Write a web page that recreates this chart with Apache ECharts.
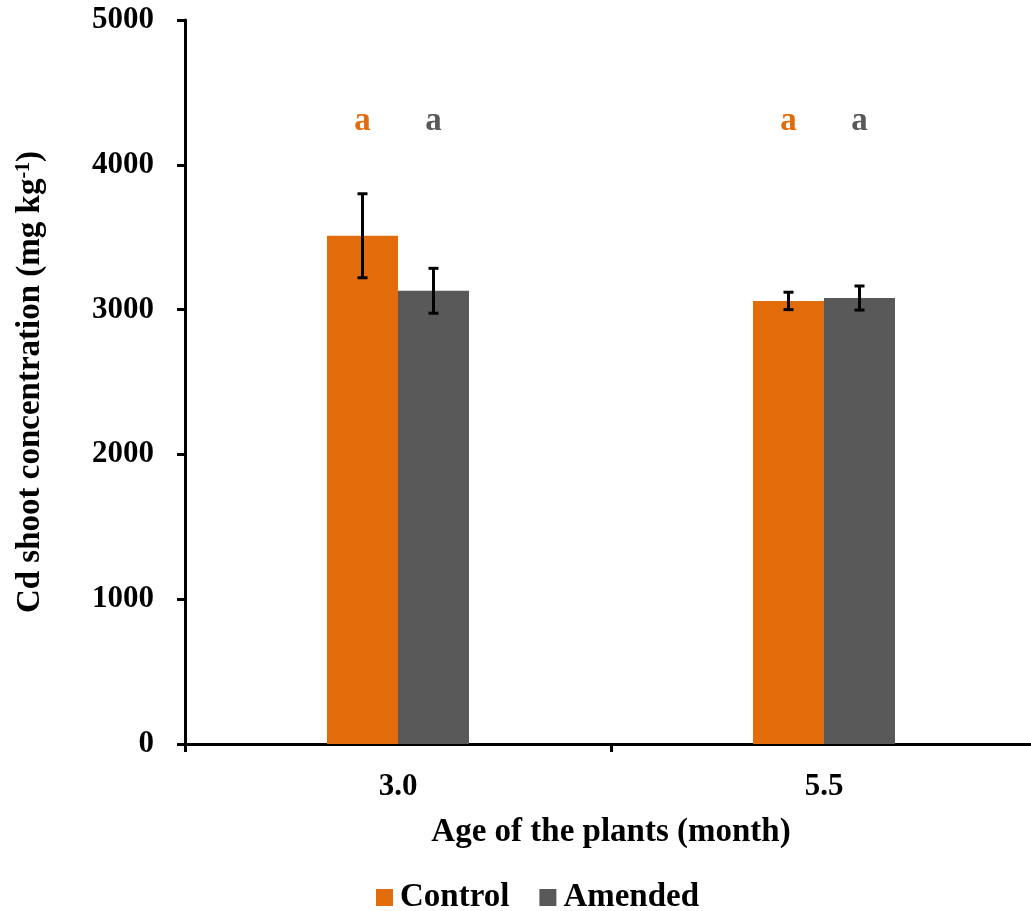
<!DOCTYPE html>
<html><head><meta charset="utf-8">
<script src="https://cdn.jsdelivr.net/npm/echarts@6/dist/echarts.min.js"></script>
<style>html,body{margin:0;padding:0;background:#fff;overflow:hidden;width:1031px;height:911px}#c{width:1037px;height:911px}</style>
</head><body><div id="c"></div>
<script>
const categories = ['3.0', '5.5'];
const seriesNames = ['Control', 'Amended'];
const controlMean = [3510, 3060];
const controlErr = [290, 60];
const amendedMean = [3130, 3080];
const amendedErr = [155, 83];
const letterControl = ['a', 'a'];
const letterAmended = ['a', 'a'];
const letterLevel = 4300;
const colors = ['#E36C0A', '#595959'];

const FONT = '"Liberation Serif", "Times New Roman", serif';
const chart = echarts.init(document.getElementById('c'));
const BW = 71;

function errSeries(mean, err, offsetSign) {
  return {
    type: 'custom',
    z: 10,
    renderItem: function (params, api) {
      const i = api.value(0);
      const m = api.value(1), e = api.value(2);
      const top = api.coord([i, m + e]);
      const bot = api.coord([i, m - e]);
      const x = top[0] + offsetSign * BW / 2;
      const cap = 5;
      const st = { stroke: '#000', lineWidth: 3 };
      return { type: 'group', children: [
        { type: 'line', shape: { x1: x, y1: top[1], x2: x, y2: bot[1] }, style: st },
        { type: 'line', shape: { x1: x - cap, y1: top[1], x2: x + cap, y2: top[1] }, style: st },
        { type: 'line', shape: { x1: x - cap, y1: bot[1], x2: x + cap, y2: bot[1] }, style: st }
      ]};
    },
    data: mean.map((v, i) => [i, v, err[i]])
  };
}

function letterSeries(letters, color, offsetSign) {
  return {
    type: 'custom',
    z: 10,
    renderItem: function (params, api) {
      const p = api.coord([api.value(0), letterLevel]);
      return { type: 'text', style: {
        x: p[0] + offsetSign * BW / 2, y: p[1], text: letters[params.dataIndex],
        fill: color, font: 'bold 33px ' + FONT, align: 'center', verticalAlign: 'middle'
      }};
    },
    data: letters.map((l, i) => [i, letterLevel])
  };
}

chart.setOption({
  animation: false,
  textStyle: { fontFamily: FONT },
  grid: { left: 185, right: 0, top: 20, bottom: 167, containLabel: false },
  legend: {
    data: seriesNames, top: 876, left: 371,
    itemWidth: 17, itemHeight: 17, itemGap: 30,
    textStyle: { fontFamily: FONT, fontWeight: 'bold', fontSize: 33, color: '#000', padding: [0,0,0,2] },
    icon: 'rect'
  },
  xAxis: {
    type: 'category', data: categories,
    name: 'Age of the plants (month)', nameLocation: 'middle', nameGap: 72,
    nameTextStyle: { fontFamily: FONT, fontWeight: 'bold', fontSize: 33, color: '#000' },
    axisLine: { lineStyle: { color: '#000', width: 3 } },
    axisTick: { show: true, length: 8, lineStyle: { color: '#000', width: 3 } },
    axisLabel: { fontFamily: FONT, fontWeight: 'bold', fontSize: 31, color: '#000', margin: 27 }
  },
  yAxis: {
    type: 'value', min: 0, max: 5000, interval: 1000,
    name: 'Cd shoot concentration (mg kg{sup|-1})', nameLocation: 'middle', nameGap: 138,
    nameTextStyle: { fontFamily: FONT, fontWeight: 'bold', fontSize: 33, color: '#000',
      rich: { sup: { fontFamily: FONT, fontWeight: 'bold', fontSize: 20, color: '#000', verticalAlign: 'top', padding: [0,0,12,0] } } },
    axisLine: { show: true, lineStyle: { color: '#000', width: 3 } },
    axisTick: { show: true, length: 8, lineStyle: { color: '#000', width: 3 } },
    splitLine: { show: false },
    axisLabel: { fontFamily: FONT, fontWeight: 'bold', fontSize: 31, color: '#000', margin: 31,
      formatter: v => String(v) }
  },
  series: [
    { name: seriesNames[0], type: 'bar', data: controlMean, barWidth: BW, barGap: '0%', itemStyle: { color: colors[0] } },
    { name: seriesNames[1], type: 'bar', data: amendedMean, barWidth: BW, barGap: '0%', itemStyle: { color: colors[1] } },
    errSeries(controlMean, controlErr, -1),
    errSeries(amendedMean, amendedErr, 1),
    letterSeries(letterControl, colors[0], -1),
    letterSeries(letterAmended, colors[1], 1)
  ]
});
</script></body></html>
